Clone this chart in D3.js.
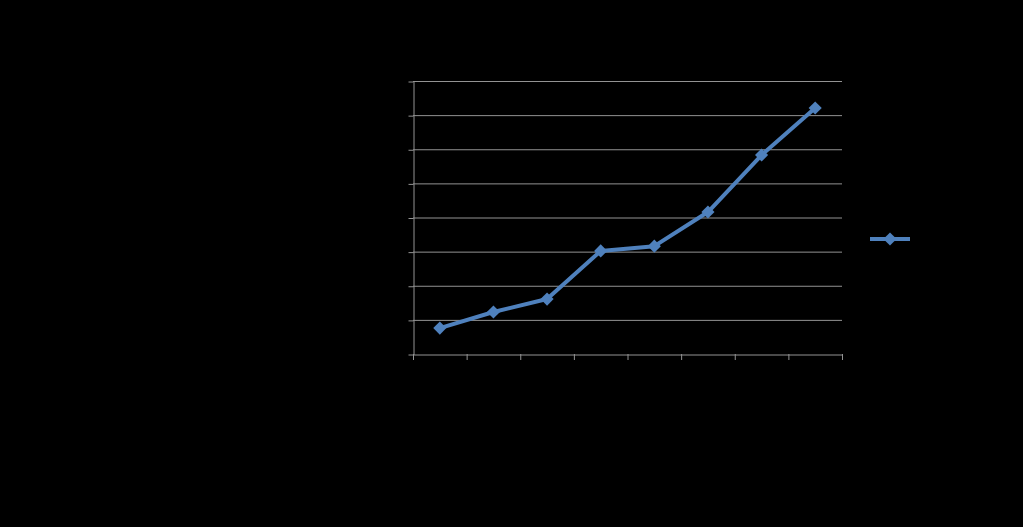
<!DOCTYPE html>
<html>
<head>
<meta charset="utf-8">
<script src="https://cdn.jsdelivr.net/npm/d3@7"></script>
<style>
  html, body { margin: 0; padding: 0; background: #000; }
  svg { display: block; }
</style>
</head>
<body>
<svg id="chart" width="1023" height="527"></svg>
<script>
// Data (text in the reference is black on black)
const categories = ["1", "2", "3", "4", "5", "6", "7", "8"];
const seriesName = "Series1";
const values = [0.76, 1.23, 1.61, 3.02, 3.16, 4.16, 5.83, 7.21];
const yTicks = [0, 1, 2, 3, 4, 5, 6, 7, 8];

const svg = d3.select("#chart");
svg.append("rect").attr("width", 1023).attr("height", 527).attr("fill", "#000");

const plot = { left: 413, right: 842, top: 81, bottom: 354 };
const gridColor = "#939393";
const lineColor = "#4f81bd";

const x = d3.scaleBand().domain(categories).range([plot.left, plot.right]);
const y = d3.scaleLinear().domain([0, 8]).range([plot.bottom, plot.top]);

// gridlines
svg.append("g")
  .selectAll("line")
  .data(yTicks.slice(1))
  .join("line")
  .attr("x1", plot.left).attr("x2", plot.right)
  .attr("y1", d => y(d) + 0.5).attr("y2", d => y(d) + 0.5)
  .attr("stroke", gridColor).attr("stroke-width", 1);

// y axis
const yAxis = svg.append("g")
  .attr("transform", `translate(${plot.left + 0.5},0.5)`)
  .call(d3.axisLeft(y).tickValues(yTicks).tickSize(5).tickSizeOuter(0));
yAxis.select(".domain").attr("stroke", gridColor);
yAxis.selectAll(".tick line").attr("stroke", gridColor);
yAxis.selectAll("text").attr("fill", "#000").style("font-family", "Calibri, 'Liberation Sans', Arial, sans-serif").style("font-size", "12px");

// x axis
const xAxis = svg.append("g")
  .attr("transform", `translate(0.5,${plot.bottom + 0.5})`)
  .call(d3.axisBottom(x).tickSize(0).tickSizeOuter(0));
xAxis.select(".domain").attr("stroke", gridColor);
xAxis.selectAll("text").attr("fill", "#000").attr("dy", "1.2em").style("font-family", "Calibri, 'Liberation Sans', Arial, sans-serif").style("font-size", "12px");
// category boundary tick marks
const boundaries = categories.map(c => x(c)).concat([plot.right]);
svg.append("g")
  .selectAll("line")
  .data(boundaries)
  .join("line")
  .attr("x1", d => d + 0.5).attr("x2", d => d + 0.5)
  .attr("y1", plot.bottom).attr("y2", plot.bottom + 6)
  .attr("stroke", gridColor).attr("stroke-width", 1);

// series line
const cx = d => x(d) + x.bandwidth() / 2;
const line = d3.line().x((d, i) => cx(categories[i])).y(d => y(d));
svg.append("path")
  .datum(values)
  .attr("d", line)
  .attr("fill", "none")
  .attr("stroke", lineColor)
  .attr("stroke-width", 4)
  .attr("stroke-linejoin", "round");

// diamond markers
const diamond = d3.symbol().type(d3.symbolDiamond2).size(110);
svg.append("g")
  .selectAll("path")
  .data(values)
  .join("path")
  .attr("transform", (d, i) => `translate(${cx(categories[i])},${y(d)})`)
  .attr("d", diamond)
  .attr("fill", lineColor);

// legend
const lg = svg.append("g").attr("transform", "translate(870,239)");
lg.append("line").attr("x1", 0).attr("x2", 40).attr("y1", 0).attr("y2", 0)
  .attr("stroke", lineColor).attr("stroke-width", 4);
lg.append("path").attr("transform", "translate(20,0)").attr("d", diamond).attr("fill", lineColor);
lg.append("text").attr("x", 46).attr("y", 4).text(seriesName)
  .attr("fill", "#000").style("font-family", "Calibri, 'Liberation Sans', Arial, sans-serif").style("font-size", "12px");
</script>
</body>
</html>
